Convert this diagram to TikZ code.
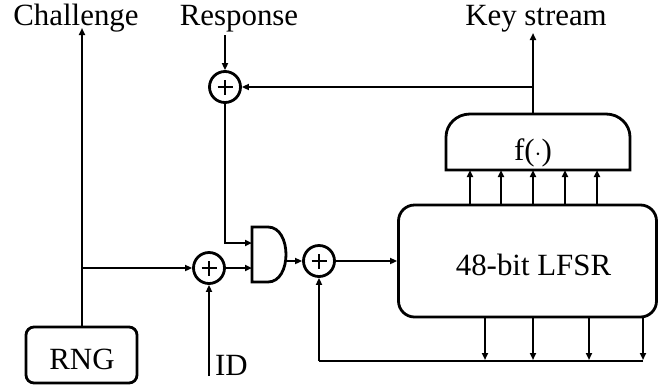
\documentclass[tikz,border=0pt]{standalone}
\usepackage{fontspec}
\setmainfont{Liberation Serif}
\usetikzlibrary{arrows.meta}
\begin{document}
\begin{tikzpicture}[x=1bp,y=-1bp,
  line/.style={line width=1.9bp},
  arr/.style={line width=1.9bp,-{Triangle[length=7bp,width=6bp]}},
  shapeline/.style={line width=2.8bp},
  xor/.style={circle,draw,line width=2.8bp,minimum size=31bp,inner sep=0pt,
    path picture={
      \draw[line width=1.1bp] ([xshift=-7.5bp]path picture bounding box.center) -- ([xshift=7.5bp]path picture bounding box.center);
      \draw[line width=1.1bp] ([yshift=-7.5bp]path picture bounding box.center) -- ([yshift=7.5bp]path picture bounding box.center);
    }},
  lbl/.style={font=\fontsize{31}{36}\selectfont,inner sep=0pt,anchor=base}
]
\path[use as bounding box] (0,0) rectangle (659,389);

% labels
\node[lbl] (chal) at (76,25) {Challenge};
\node[lbl] (resp) at (239,25) {Response};
\node[lbl] (keys) at (536,25) {Key stream};
\node[lbl,anchor=base west] (id) at (215,375) {ID};

% XOR nodes
\node[xor] (x1) at (225,87) {};
\node[xor] (x2) at (209,268) {};
\node[xor] (x3) at (319,261) {};

% RNG box
\node[draw,shapeline,rounded corners=8bp,minimum width=111bp,minimum height=56bp,inner sep=0pt] (rng) at (81.5,355) {};
\node[lbl] (rngl) at (82,369) {RNG};

% LFSR box
\node[draw,shapeline,rounded corners=16bp,minimum width=258bp,minimum height=112bp,inner sep=0pt] (lfsr) at (527.5,261) {};
\node[lbl] (lfsrl) at (533.5,275) {48-bit LFSR};

% f box
\draw[shapeline,line join=miter] (446,170) -- (446,137) arc[start angle=180,end angle=270,x radius=24,y radius=23] -- (606,114) arc[start angle=270,end angle=360,x radius=24,y radius=23] -- (630,170) -- cycle;
\node[lbl] (f) at (533,160) {f($\cdot$)};
\coordinate (ftop) at (533,114);

% AND gate
\draw[shapeline] (252,227) -- (268,227) .. controls (292,227) and (292,282) .. (268,282) -- (252,282) -- cycle;
\coordinate (andin1) at (252,243);
\coordinate (andin2) at (252,268);
\coordinate (andout) at (286,261);

% Challenge
\draw[arr] (rng.north -| 82,0) -- (82,28);
\coordinate (tap) at (82,268);
\draw[arr] (tap) -- (x2.west);
% ID
\coordinate (idstart) at (209,376);
\draw[arr] (idstart) -- (x2.south);
% Response
\coordinate (respstart) at (225,35);
\draw[arr] (respstart) -- (x1.north);
% Key stream
\draw[arr] (ftop) -- (533,33);
\coordinate (kstap) at (533,87);
\draw[arr] (kstap) -- (x1.east);
% XOR1 to AND
\draw[arr] (x1.south) |- (andin1);
\draw[arr] (x2.east) -- (andin2);
\draw[arr] (andout) -- (x3.west);
\draw[arr] (x3.east) -- (lfsr.west |- x3.east);
% LFSR to f
\foreach \xx in {470,501,533,565,597}{
  \draw[arr] (\xx,205) -- (\xx,170);
}
% LFSR feedback
\foreach \xx in {485,533,589,643}{
  \draw[arr] (\xx,317) -- (\xx,360);
}
\coordinate (fbend) at (643,361);
\draw[line] (fbend) -- (319,361);
\draw[arr] (319,361) -- (x3.south);
\end{tikzpicture}
\end{document}
